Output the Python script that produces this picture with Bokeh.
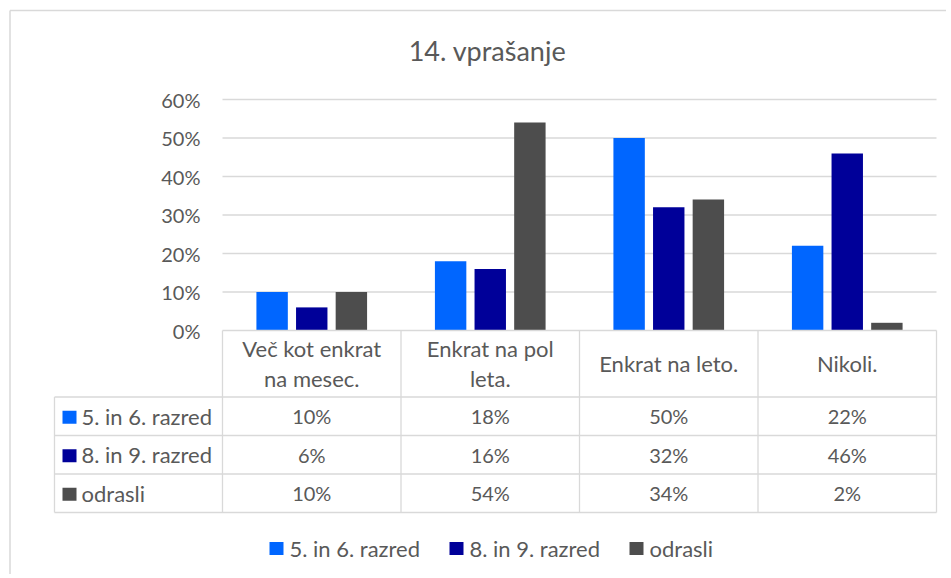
from bokeh.plotting import figure
from bokeh.models import Range1d
from bokeh.core.properties import value
from bokeh.embed import file_html
from bokeh.resources import INLINE

# ---------------- data ----------------
title = "14. vprašanje"
categories = ["Več kot enkrat na mesec.", "Enkrat na pol leta.", "Enkrat na leto.", "Nikoli."]
category_lines = [["Več kot enkrat", "na mesec."], ["Enkrat na pol", "leta."], ["Enkrat na leto."], ["Nikoli."]]
series_names = ["5. in 6. razred", "8. in 9. razred", "odrasli"]
s_5_6 = [0.10, 0.18, 0.50, 0.22]
s_8_9 = [0.06, 0.16, 0.32, 0.46]
s_adults = [0.10, 0.54, 0.34, 0.02]
y_ticks = [0.0, 0.1, 0.2, 0.3, 0.4, 0.5, 0.6]
y_tick_labels = ["0%", "10%", "20%", "30%", "40%", "50%", "60%"]

series = [s_5_6, s_8_9, s_adults]
colors = ["#0066FF", "#000099", "#4D4D4D"]
text_color = "#595959"
line_color = "#D9D9D9"
FONT = value("Lato")
NUM_SIZE = "20px"
LBL_SIZE = "22px"

# ---------------- layout (page pixels -> data units) ----------------
W, H = 946, 574
ORIG = 0                   # page offset of the canvas
X0, XU = 222.0, 178.5      # page x of category 0 start, px per category
Y0, YU = 330.0, 385.0      # page y of 0 %, px per 100 %

def px_x(X):
    return (X - X0) / XU

def px_y(Y):
    return (Y0 - Y) / YU

p = figure(width=W, height=H, output_backend="svg", toolbar_location=None,
           x_axis_location=None, y_axis_location=None, min_border=0,
           x_range=Range1d(px_x(ORIG), px_x(ORIG + W)), y_range=Range1d(px_y(ORIG + H), px_y(ORIG)),
           outline_line_color=None, background_fill_color="white", border_fill_color="white")
p.grid.visible = False

# chart border (left + top visible)
p.segment(x0=[px_x(9.5), px_x(9.5)], y0=[px_y(10), px_y(10)],
          x1=[px_x(9.5), px_x(1000)], y1=[px_y(700), px_y(10)],
          line_color=line_color, line_width=1.5)

# title
p.text(x=[px_x(487)], y=[px_y(50)], text=[title], text_align="center", text_baseline="middle",
       text_font=FONT, text_font_size="27px", text_color=text_color)

# gridlines
n = len(categories)
gy = [t for t in y_ticks if t > 0]
p.segment(x0=[0] * len(gy), y0=gy, x1=[n] * len(gy), y1=gy, line_color=line_color, line_width=1.3)

# y tick labels
p.text(x=[px_x(200)] * len(y_ticks), y=y_ticks, text=y_tick_labels, text_align="right",
       text_baseline="middle", text_font=FONT, text_font_size=NUM_SIZE, text_color=text_color)

# bars
offsets = [-0.222, 0.0, 0.222]
bw = 0.176
for vals, off, col in zip(series, offsets, colors):
    p.vbar(x=[i + 0.5 + off for i in range(n)], top=vals, bottom=0, width=bw,
           fill_color=col, line_color=None)

# ---------------- data table ----------------
row_h = 0.1
header_bot = px_y(396.5)
rows_y = [header_bot - row_h * k for k in range(len(series) + 1)]
left = px_x(54)
table_bottom = rows_y[-1]
hx0 = [0.0] + [left] * len(rows_y)
hx1 = [float(n)] * (len(rows_y) + 1)
hy = [0.0] + rows_y
p.segment(x0=hx0, y0=hy, x1=hx1, y1=hy, line_color=line_color, line_width=1.3)
vx = [left] + list(range(n + 1))
vy0 = [header_bot] + [0.0] * (n + 1)
p.segment(x0=vx, y0=vy0, x1=vx, y1=[table_bottom] * len(vx), line_color=line_color, line_width=1.3)

# header text
hdr_center = (0.0 + header_bot) / 2
line_gap = 30.0 / YU
hx, hyy, ht = [], [], []
for i, lines in enumerate(category_lines):
    k = len(lines)
    for j, t in enumerate(lines):
        hx.append(i + 0.5)
        hyy.append(hdr_center + (k - 1) / 2 * line_gap - j * line_gap)
        ht.append(t)
p.text(x=hx, y=hyy, text=ht, text_align="center", text_baseline="middle",
       text_font=FONT, text_font_size=LBL_SIZE, text_color=text_color)

# table rows
for r, (name, vals, col) in enumerate(zip(series_names, series, colors)):
    yc = rows_y[r] - row_h / 2
    p.rect(x=[px_x(69)], y=[yc - 1.0 / YU], width=14, height=13, width_units="screen",
           height_units="screen", fill_color=col, line_color=None)
    p.text(x=[px_x(81)], y=[yc], text=[name], text_align="left", text_baseline="middle",
           text_font=FONT, text_font_size=LBL_SIZE, text_color=text_color)
    p.text(x=[i + 0.5 for i in range(n)], y=[yc] * n, text=[f"{round(v * 100)}%" for v in vals],
           text_align="center", text_baseline="middle", text_font=FONT, text_font_size=NUM_SIZE,
           text_color=text_color)

# bottom legend
leg_sq = [276, 456, 636]
leg_y = px_y(548)
for xs, name, col in zip(leg_sq, series_names, colors):
    p.rect(x=[px_x(xs)], y=[leg_y], width=14, height=13, width_units="screen",
           height_units="screen", fill_color=col, line_color=None)
    p.text(x=[px_x(xs + 13)], y=[leg_y], text=[name], text_align="left", text_baseline="middle",
           text_font=FONT, text_font_size=LBL_SIZE, text_color=text_color)

open("out.html", "w").write(file_html(p, INLINE))
